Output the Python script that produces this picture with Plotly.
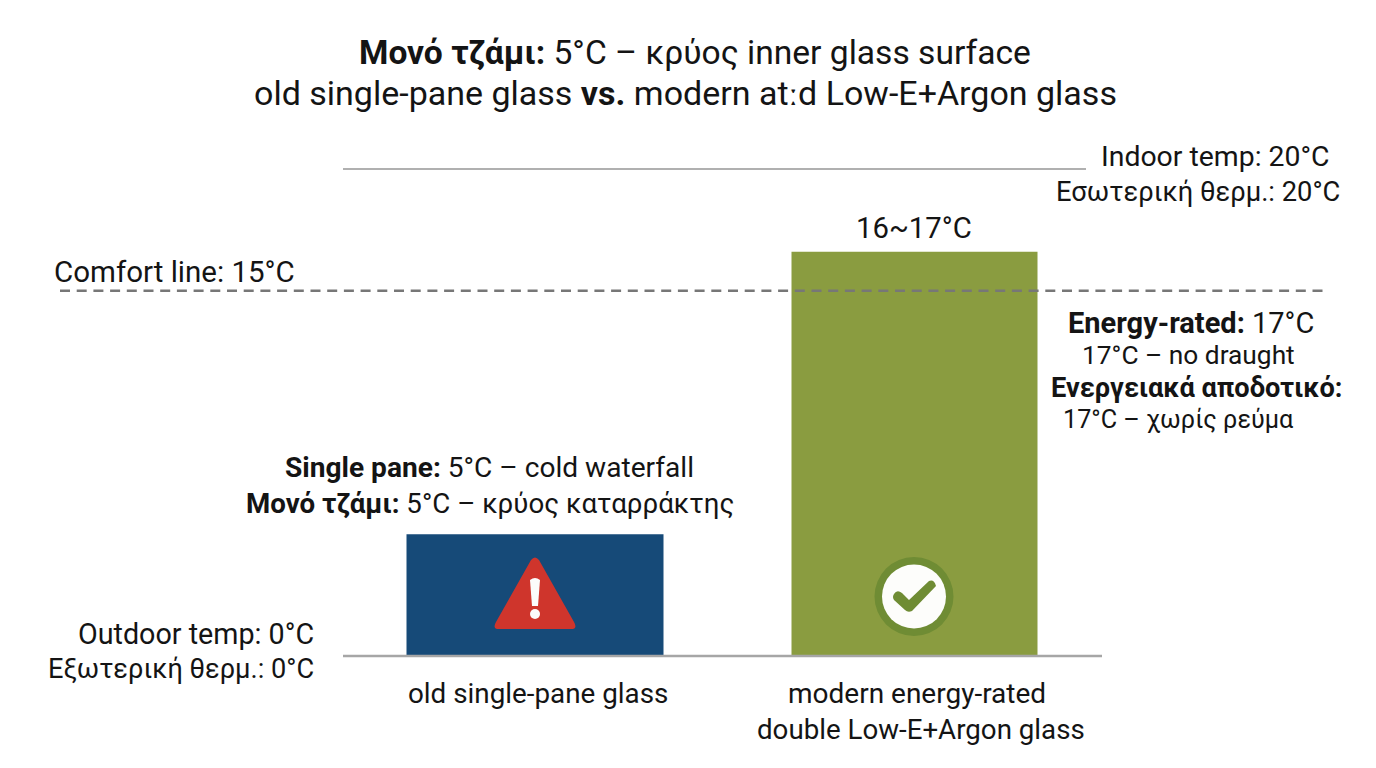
import plotly.graph_objects as go

# Values (degrees C)
categories = ['old single-pane glass', 'modern energy-rated<br>double Low-E+Argon glass']
surface_temp = [5, 16.6]
bar_colors = ['#164a78', '#8a9c40']
indoor_temp = 20
comfort_temp = 15
outdoor_temp = 0

TEXT = '#141414'
FONT = 'Roboto'
# The page body has an 8px margin, so the figure sits at (8, 8)
W, H = 1360, 752
PAGE_MARGIN = 8

fig = go.Figure()

# The x axis runs in screen pixels so that the bars keep their uneven widths
fig.add_trace(go.Bar(
    x=[535, 914.5],
    y=surface_temp,
    width=[257, 246],
    marker=dict(color=bar_colors, line=dict(width=0)),
    hoverinfo='skip',
))

# Reference lines
fig.add_trace(go.Scatter(x=[343, 1086], y=[indoor_temp, indoor_temp], mode='lines',
                         line=dict(color='#b0b0b0', width=2), hoverinfo='skip'))
fig.add_trace(go.Scatter(x=[343, 1102], y=[outdoor_temp, outdoor_temp], mode='lines',
                         line=dict(color='#a6a6a6', width=2.5), hoverinfo='skip'))
fig.add_trace(go.Scatter(x=[60, 1328], y=[comfort_temp, comfort_temp], mode='lines',
                         line=dict(color='#777777', width=2.5, dash='10px,6.7px'), hoverinfo='skip'))


def label(text, x, y, size=28):
    # x, y are screen pixels of the centre of the text
    fig.add_annotation(text=text, xref='paper', yref='paper',
                       x=(x - PAGE_MARGIN) / W, y=1 - (y - PAGE_MARGIN) / H,
                       xanchor='center', yanchor='middle', showarrow=False,
                       font=dict(family=FONT, size=size, color=TEXT))


label('<b>Μονό τζάμι:</b> 5°C – κρύος inner glass surface', 695, 52, 33.6)
label('old single-pane glass <b>vs.</b> modern atːd Low-E+Argon glass', 685, 93, 34)

label('Indoor temp: 20°C', 1215, 157, 28.4)
label('Εσωτερική θερμ.: 20°C', 1197.5, 192, 27.3)
label('Comfort line: 15°C', 174.5, 272, 29.5)
label('16~17°C', 913.5, 228, 29.3)

label('<b>Energy-rated:</b> 17°C', 1190.5, 323, 29)
label('17°C – no draught', 1188.5, 355, 26.3)
label('<b>Ενεργειακά αποδοτικό:</b>', 1196.5, 388, 27.2)
label('17°C – χωρίς ρεύμα', 1178.5, 419, 25.2)

label('<b>Single pane:</b> 5°C – cold waterfall', 489.5, 467, 28.1)
label('<b>Μονό τζάμι:</b> 5°C – κρύος καταρράκτης', 490, 504, 27.7)

label('Outdoor temp: 0°C', 196, 634, 28.7)
label('Εξωτερική θερμ.: 0°C', 181, 669, 27.2)

label(categories[0], 537.5, 693, 27.8)
first, second = categories[1].split('<br>')
label(first, 917, 693, 28)
label(second, 921.5, 729, 27.7)


def icon(kind, x_anchor, color, **kw):
    # pixel sized shape anchored on the axis baseline, offsets go up from y=0
    fig.add_shape(type=kind, xref='x', yref='y', xsizemode='pixel', ysizemode='pixel',
                  xanchor=x_anchor, yanchor=0, fillcolor=color,
                  line=dict(width=0), layer='above', **kw)


# Warning triangle with rounded corners
icon('path', 535, '#cf352c',
     path='M -4 96 Q 0 101 4 96 L 39 34 Q 43 27 36 27 L -36 27 Q -43 27 -39 34 Z')
icon('path', 535, '#fbfbfb', path='M -5 76 Q 0 80 5 76 L 3 50 L -3 50 Z')
icon('circle', 535, '#fbfbfb', x0=-5, x1=5, y0=37, y1=47)

# Check badge
icon('circle', 914, '#6f8c34', x0=-39.5, x1=39.5, y0=20, y1=99)
icon('circle', 914, '#fdfdfb', x0=-32, x1=32, y0=27.5, y1=91.5)
icon('path', 914, '#6f8c34',
     path='M -20 62 Q -17 67 -12 63 L -5 56 L 15 75 Q 20 77 22 70 L -2 45 Q -6 43 -9 46 L -20 56 Q -22 59 -20 62 Z')

fig.update_layout(
    width=W,
    height=H,
    margin=dict(l=0, r=0, t=0, b=0),
    paper_bgcolor='white',
    plot_bgcolor='white',
    showlegend=False,
    xaxis=dict(range=[PAGE_MARGIN, PAGE_MARGIN + W], visible=False, fixedrange=True),
    yaxis=dict(range=[(656 - PAGE_MARGIN - H) / 24.35, (656 - PAGE_MARGIN) / 24.35],
               visible=False, fixedrange=True),
)

fig.write_html('out.html')
